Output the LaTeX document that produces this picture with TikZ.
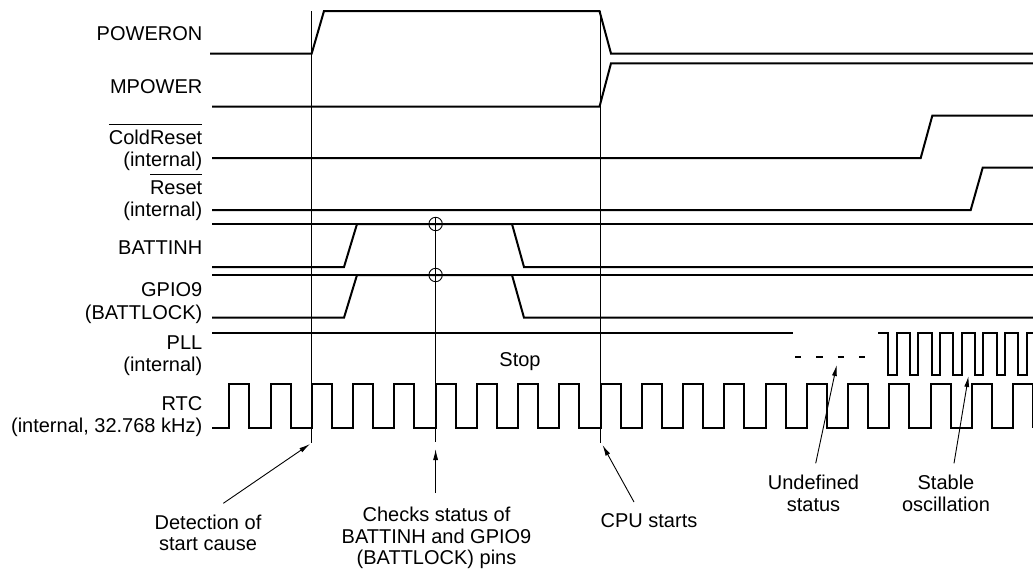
\documentclass[tikz,border=0pt]{standalone}
\usepackage{fontspec}
\setmainfont{Liberation Sans}
\usetikzlibrary{arrows.meta}
\newcommand\myovl[1]{\setbox0\hbox{#1}\rlap{\rule[19.5pt]{\wd0}{0.9pt}}\box0}
\begin{document}
\begin{tikzpicture}[x=1pt,y=-1pt,
  sig/.style={line width=2pt, line join=miter},
  cur/.style={line width=0.9pt},
  arr/.style={line width=0.9pt,-{Latex[length=11pt,width=5pt]}},
  lbl/.style={anchor=base east, inner sep=0pt, font=\fontsize{20}{24}\selectfont},
  txt/.style={anchor=base, inner sep=0pt, font=\fontsize{20}{24}\selectfont}]
\useasboundingbox (0,0) rectangle (1033,574);

% signal labels
\node[lbl] (lpow) at (202.5,40) {POWERON};
\node[lbl] (lmpow) at (202.5,93.3) {MPOWER};
\node[lbl] (lcold) at (202.5,144) {\myovl{ColdReset}};
\node[lbl] (lcoldi) at (202.5,166) {(internal)};
\node[lbl] (lrst) at (202.5,194.3) {\myovl{Reset}};
\node[lbl] (lrsti) at (202.5,216.3) {(internal)};
\node[lbl] (lbatt) at (202.5,254.3) {BATTINH};
\node[lbl] (lgpio) at (202.5,296.7) {GPIO9};
\node[lbl] (lgpiob) at (202.5,319) {(BATTLOCK)};
\node[lbl] (lpll) at (202.5,349.3) {PLL};
\node[lbl] (lplli) at (202.5,371.5) {(internal)};
\node[lbl] (lrtc) at (202.5,410.7) {RTC};
\node[lbl] (lrtci) at (202.5,432.5) {(internal, 32.768 kHz)};

% waveforms
\draw[sig] (210,53.5) -- (311.7,53.5) -- (324,11) -- (599.5,11) -- (611,53.5) -- (1033,53.5);
\draw[sig] (212,106.7) -- (599.5,106.7) -- (611,63.3) -- (1033,63.3);
\draw[sig] (212,158) -- (920.7,158) -- (932.3,115.7) -- (1033,115.7);
\draw[sig] (212,210) -- (970.7,210) -- (982.7,167.7) -- (1033,167.7);
\draw[sig] (212,224) -- (1033,224);
\draw[sig] (212,267) -- (344,267) -- (357,224) -- (512,224) -- (524,267) -- (1033,267);
\draw[sig] (212,275) -- (1033,275);
\draw[sig] (212,317.7) -- (344,317.7) -- (357,275) -- (512,275) -- (524,317.7) -- (1033,317.7);
\draw[sig] (212,333.3) -- (793,333.3);
\draw[sig, dash pattern=on 6.3pt off 15pt] (795,357.3) -- (865.3,357.3);
\draw[sig] (878.3,333.3) foreach \k in {0,...,6} {
  -- ({888.3+21.67*\k},333.3) -- ({888.3+21.67*\k},375)
  -- ({896.6+21.67*\k},375) -- ({896.6+21.67*\k},333.3) } -- (1033,333.3);
\draw[sig] (212,428.3) foreach \k in {0,...,19} {
  -- ({229.3+41.25*\k},428.3) -- ({229.3+41.25*\k},384.3)
  -- ({249.3+41.25*\k},384.3) -- ({249.3+41.25*\k},428.3) };

\node[txt] (stop) at (520,366) {Stop};

% cursors
\coordinate (c1t) at (311.7,11);
\coordinate (c1b) at (311.7,443);
\coordinate (c2t) at (435.6,217.3);
\coordinate (c2b) at (435.6,442);
\coordinate (c3t) at (600,11);
\coordinate (c3b) at (600,443);
\draw[cur] (c1t) -- (c1b);
\draw[cur] (c2t) -- (c2b);
\draw[cur] (c3t) -- (c3b);
\draw[cur] (435.6,224) circle (6.7pt);
\draw[cur] (435.6,275) circle (6.7pt);

% annotations
\node[txt] (det1) at (208,529.3) {Detection of};
\node[txt] (det2) at (208,550.5) {start cause};
\node[txt] (chk1) at (436.5,521) {Checks status of};
\node[txt] (chk2) at (436.5,543) {BATTINH and GPIO9};
\node[txt] (chk3) at (436.5,564.5) {(BATTLOCK) pins};
\node[txt] (cpu) at (649,527.3) {CPU starts};
\node[txt] (und1) at (813.5,489.3) {Undefined};
\node[txt] (und2) at (813.5,511.5) {status};
\node[txt] (stb1) at (946,489.3) {Stable};
\node[txt] (stb2) at (946,511.5) {oscillation};

\coordinate (detA) at (223.3,503.3);
\coordinate (detB) at (310,444);
\coordinate (chkA) at (435.6,493);
\coordinate (chkB) at (435.6,449);
\coordinate (cpuA) at (634,502);
\coordinate (cpuB) at (602.5,445);
\coordinate (undA) at (815.7,463.3);
\coordinate (undB) at (836.7,365);
\coordinate (stbA) at (954,463.3);
\coordinate (stbB) at (968.5,376);
\draw[arr] (detA) -- (detB);
\draw[arr] (chkA) -- (chkB);
\draw[arr] (cpuA) -- (cpuB);
\draw[arr] (undA) -- (undB);
\draw[arr] (stbA) -- (stbB);
\end{tikzpicture}
\end{document}
